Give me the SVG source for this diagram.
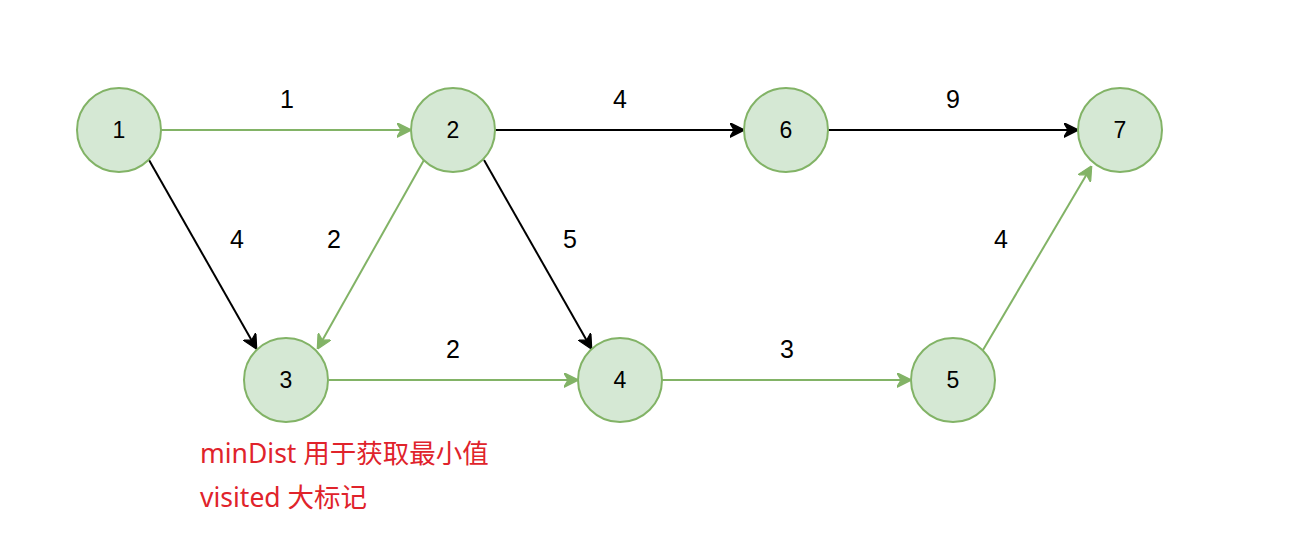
<svg xmlns="http://www.w3.org/2000/svg" width="1307" height="538" viewBox="0 0 1307 538">
<style>
.node circle{fill:#d5e8d4;stroke:#82b366;stroke-width:2}
.node text{font-family:"Liberation Sans",Arial,sans-serif;font-size:23px;fill:#000;text-anchor:middle;dominant-baseline:central}
.e{fill:none;stroke-width:2}
.g{stroke:#82b366}
.b{stroke:#000}
.lbl{font-family:"Liberation Sans",Arial,sans-serif;font-size:25px;fill:#000;text-anchor:middle;dominant-baseline:central}
.note{font-family:"Noto Sans","Noto Sans CJK SC",sans-serif;font-size:26.5px;fill:#e0232b}
</style>
<defs>
<marker id="ag" viewBox="0 0 10 10" refX="9" refY="5" markerWidth="15" markerHeight="15" markerUnits="userSpaceOnUse" orient="auto"><path d="M0,0 L10,5 L0,10 L3,5 Z" fill="#82b366" stroke="#82b366" stroke-width="0.8"/></marker>
<marker id="ab" viewBox="0 0 10 10" refX="9" refY="5" markerWidth="15" markerHeight="15" markerUnits="userSpaceOnUse" orient="auto"><path d="M0,0 L10,5 L0,10 L3,5 Z" fill="#000" stroke="#000" stroke-width="0.8"/></marker>
</defs>
<rect width="1307" height="538" fill="#fff"/>
<g id="connectors">
<line class="e g" x1="161" y1="130" x2="410" y2="130" marker-end="url(#ag)"/>
<line class="e b" x1="495" y1="130" x2="743" y2="130" marker-end="url(#ab)"/>
<line class="e b" x1="828" y1="130" x2="1077" y2="130" marker-end="url(#ab)"/>
<line class="e b" x1="149" y1="160" x2="256" y2="348" marker-end="url(#ab)"/>
<line class="e g" x1="424" y1="160" x2="318" y2="348" marker-end="url(#ag)"/>
<line class="e b" x1="484" y1="160" x2="591" y2="348" marker-end="url(#ab)"/>
<line class="e g" x1="329" y1="380" x2="577" y2="380" marker-end="url(#ag)"/>
<line class="e g" x1="662" y1="380" x2="910" y2="380" marker-end="url(#ag)"/>
<line class="e g" x1="983" y1="350" x2="1091" y2="167" marker-end="url(#ag)"/>
<text class="lbl" x="287" y="99">1</text>
<text class="lbl" x="620" y="99">4</text>
<text class="lbl" x="953" y="99">9</text>
<text class="lbl" x="237" y="239">4</text>
<text class="lbl" x="334" y="239">2</text>
<text class="lbl" x="570" y="239">5</text>
<text class="lbl" x="453" y="349">2</text>
<text class="lbl" x="787" y="349">3</text>
<text class="lbl" x="1001" y="239">4</text>
</g>
<g id="n1" class="node"><circle cx="119" cy="130" r="42"/><text x="119" y="130">1</text></g>
<g id="n2" class="node"><circle cx="453" cy="130" r="42"/><text x="453" y="130">2</text></g>
<g id="n6" class="node"><circle cx="786" cy="130" r="42"/><text x="786" y="130">6</text></g>
<g id="n7" class="node"><circle cx="1120" cy="130" r="42"/><text x="1120" y="130">7</text></g>
<g id="n3" class="node"><circle cx="286" cy="380" r="42"/><text x="286" y="380">3</text></g>
<g id="n4" class="node"><circle cx="620" cy="380" r="42"/><text x="620" y="380">4</text></g>
<g id="n5" class="node"><circle cx="953" cy="380" r="42"/><text x="953" y="380">5</text></g>
<g id="notes">
<text class="note" x="200" y="463">minDist 用于获取最小值</text>
<text class="note" x="200" y="507">visited 大标记</text>
</g>
</svg>
